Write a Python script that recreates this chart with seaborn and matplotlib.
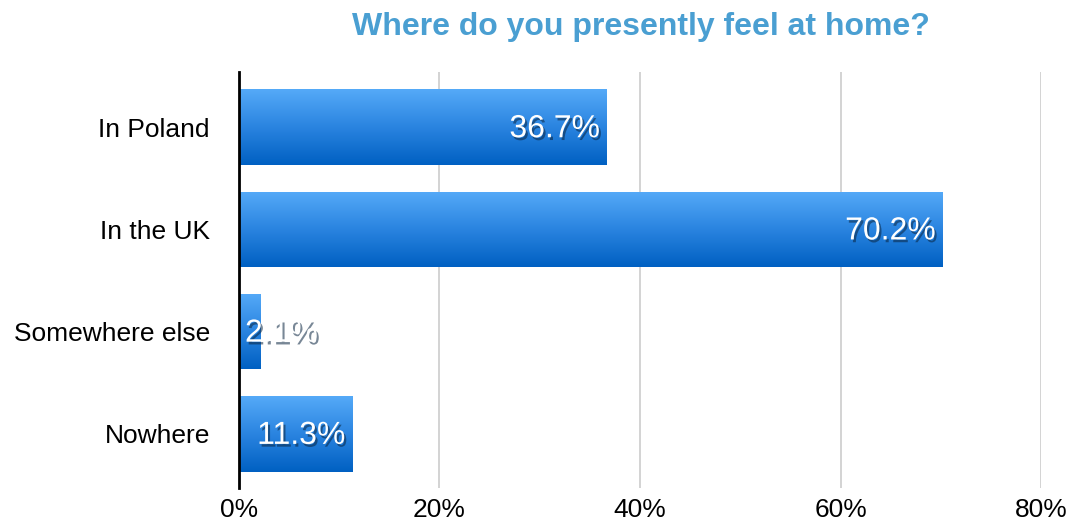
import numpy as np
import pandas as pd
import matplotlib
matplotlib.use("Agg")
import matplotlib.pyplot as plt
import matplotlib.patheffects as pe
from matplotlib.colors import LinearSegmentedColormap
import seaborn as sns

categories = ["In Poland", "In the UK", "Somewhere else", "Nowhere"]
values = [36.7, 70.2, 2.1, 11.3]
x_ticks = [0, 20, 40, 60, 80]
x_tick_labels = ["0%", "20%", "40%", "60%", "80%"]
title = "Where do you presently feel at home?"

df = pd.DataFrame({"place": categories, "share": values})

sns.set_theme(style="white")
plt.rcParams["font.family"] = ["Liberation Sans", "DejaVu Sans"]

fig = plt.figure(figsize=(10.76, 5.26), dpi=100)
ax = fig.add_axes([0.2221, 0.0722, 0.7454, 0.7909])

sns.barplot(data=df, x="share", y="place", orient="h", ax=ax,
            width=0.74, color="#2f86e0", saturation=1, zorder=3)

# vertical gradient fill for each bar
grad_cmap = LinearSegmentedColormap.from_list(
    "bar_grad", ["#0060c2", "#2a84e0", "#55aaf8"])
grad = np.linspace(0, 1, 256).reshape(-1, 1)
for patch in ax.patches:
    x0, y0 = patch.get_x(), patch.get_y()
    w, h = patch.get_width(), patch.get_height()
    im = ax.imshow(grad, cmap=grad_cmap, aspect="auto", origin="lower",
                   extent=[x0, x0 + w, y0 + h, y0], zorder=3,
                   interpolation="bilinear")
    im.set_clip_path(patch)
    patch.set_facecolor("none")
    patch.set_edgecolor("none")
ax.set_xlim(0, 80)
ax.set_ylim(3.53, -0.54)

# value labels with drop shadow
shadow = [pe.SimplePatchShadow(offset=(1.5, -2), shadow_rgbFace="#0a2540",
                               alpha=0.55), pe.Normal()]
for i, v in enumerate(values):
    if v > 8:
        xt, ha = v - 0.7, "right"
    else:
        xt, ha = 0.6, "left"
    ax.text(xt, i + 0.02, f"{v:.1f}%", ha=ha, va="center", color="white",
            fontsize=23, zorder=5, path_effects=shadow)

# grid and axes styling
ax.set_xticks(x_ticks)
ax.set_xticklabels(x_tick_labels, fontsize=19)
ax.xaxis.grid(True, color="#c8c8c8", linewidth=1.1, zorder=0)
ax.yaxis.grid(False)
ax.tick_params(axis="x", length=0, pad=7, labelcolor="black")
ax.tick_params(axis="y", length=0, pad=21, labelsize=19, labelcolor="black")
for s in ["top", "right", "bottom"]:
    ax.spines[s].set_visible(False)
ax.spines["left"].set_color("black")
ax.spines["left"].set_linewidth(2)
ax.spines["left"].set_zorder(6)
ax.set_xlabel("")
ax.set_ylabel("")

fig.text(0.596, 0.948, title, ha="center", va="center", fontsize=23,
         fontweight="bold", color="#4a9fd2")

fig.savefig("out.png", dpi=100)
